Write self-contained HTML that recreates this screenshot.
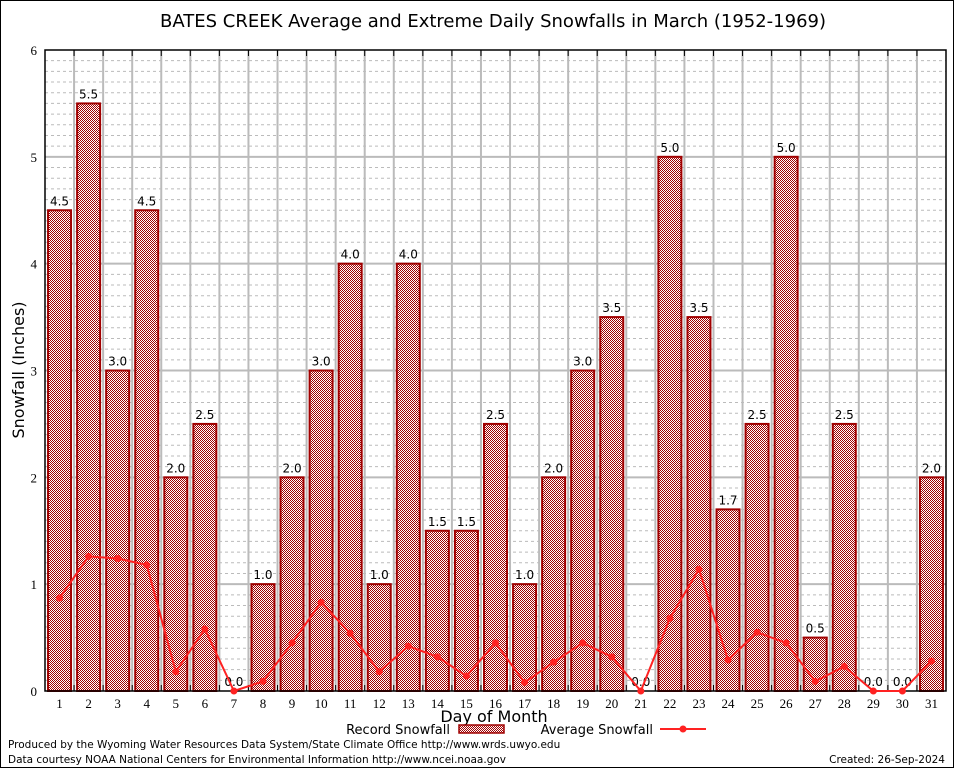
<!DOCTYPE html>
<html><head><style>body{margin:0;background:#fff}svg{display:block}</style></head><body>
<svg width="954" height="768" xmlns="http://www.w3.org/2000/svg" font-family="DejaVu Sans, sans-serif">
<defs><pattern id="p" width="2" height="2" patternUnits="userSpaceOnUse"><rect width="2" height="2" fill="#fff"/><rect width="1" height="1" fill="#a00000"/><rect x="1" y="1" width="1" height="1" fill="#a00000"/></pattern></defs>
<rect x="0.5" y="0.5" width="953" height="767" fill="#fff" stroke="#000"/>
<text x="493" y="27" font-size="18" text-anchor="middle">BATES CREEK Average and Extreme Daily Snowfalls in March (1952-1969)</text>
<g id="grid"></g>
<g id="bars"></g>
<rect x="45" y="50" width="901" height="641" fill="none" stroke="#000" stroke-width="1.5"/>
<g font-family="Liberation Serif, serif" font-size="13" text-anchor="end" id="yl"></g>
<g font-family="Liberation Serif, serif" font-size="13" text-anchor="middle" id="xl"></g>
<text x="24" y="370" font-size="16" text-anchor="middle" transform="rotate(-90 24 370)">Snowfall (Inches)</text>
<text x="494" y="722" font-size="16" text-anchor="middle">Day of Month</text>
<text x="450" y="734" font-size="13" text-anchor="end">Record Snowfall</text>
<rect x="459" y="725" width="45" height="8" fill="url(#p)" stroke="#a00000" stroke-width="1.5"/>
<text x="653" y="734" font-size="13" text-anchor="end">Average Snowfall</text>
<line x1="660" y1="729" x2="706" y2="729" stroke="#f22" stroke-width="2"/><circle cx="683" cy="729" r="3.5" fill="#f22"/>
<text x="8" y="748" font-size="10.5">Produced by the Wyoming Water Resources Data System/State Climate Office http://www.wrds.uwyo.edu</text>
<text x="8" y="763" font-size="10.5">Data courtesy NOAA National Centers for Environmental Information http://www.ncei.noaa.gov</text>
<text x="945" y="763" font-size="10.5" text-anchor="end">Created:  26-Sep-2024</text>
<g id="avg"></g>
</svg>
<script>
const ns="http://www.w3.org/2000/svg";
function el(p,t,a,txt){const e=document.createElementNS(ns,t);for(const k in a)e.setAttribute(k,a[k]);if(txt!=null)e.textContent=txt;document.getElementById(p).appendChild(e);return e;}
const X0=45,W=901/31,Y0=691,U=641/6;
const rec=[4.5,5.5,3,4.5,2,2.5,0,1,2,3,4,1,4,1.5,1.5,2.5,1,2,3,3.5,0,5,3.5,1.7,2.5,5,0.5,2.5,0,0,2];
const avg=[0.87,1.26,1.24,1.18,0.18,0.58,0,0.09,0.45,0.83,0.54,0.18,0.42,0.32,0.14,0.45,0.08,0.27,0.45,0.32,0,0.68,1.14,0.29,0.55,0.45,0.09,0.23,0,0,0.28];
for(let i=1;i<60;i++){if(i%10==0)continue;const y=Y0-i*U/10;el('grid','line',{x1:X0,x2:946,y1:y,y2:y,stroke:'#bbb','stroke-dasharray':'3,3'});}
for(let i=1;i<6;i++){const y=Y0-i*U;el('grid','line',{x1:X0,x2:946,y1:y,y2:y,stroke:'#bbb','stroke-width':2});}
for(let i=1;i<31;i++){const x=X0+i*W;el('grid','line',{x1:x,x2:x,y1:50,y2:691,stroke:'#bbb','stroke-width':2});el('grid','line',{x1:x,x2:x,y1:50,y2:56,stroke:'#000'});el('grid','line',{x1:x,x2:x,y1:685,y2:691,stroke:'#000'});}
for(let i=0;i<=6;i++){el('yl','text',{x:37,y:Y0-i*U+5},i);}
const pts=[];
rec.forEach((v,i)=>{const c=X0+(i+0.5)*W;const h=v*U;
if(v>0)el('bars','rect',{x:c-11.5,y:Y0-h,width:23,height:h,fill:'url(#p)',stroke:'#a00000','stroke-width':2});
el('bars','text',{x:c,y:Y0-h-5,'font-size':12,'text-anchor':'middle'},v.toFixed(1));
el('xl','text',{x:c,y:708},i+1);
pts.push(c+','+(Y0-avg[i]*U));});
el('avg','polyline',{points:pts.join(' '),fill:'none',stroke:'#f22','stroke-width':2});
pts.forEach(p=>{const [x,y]=p.split(',');el('avg','circle',{cx:x,cy:y,r:3.5,fill:'#f22'});});
</script>
</body></html>
